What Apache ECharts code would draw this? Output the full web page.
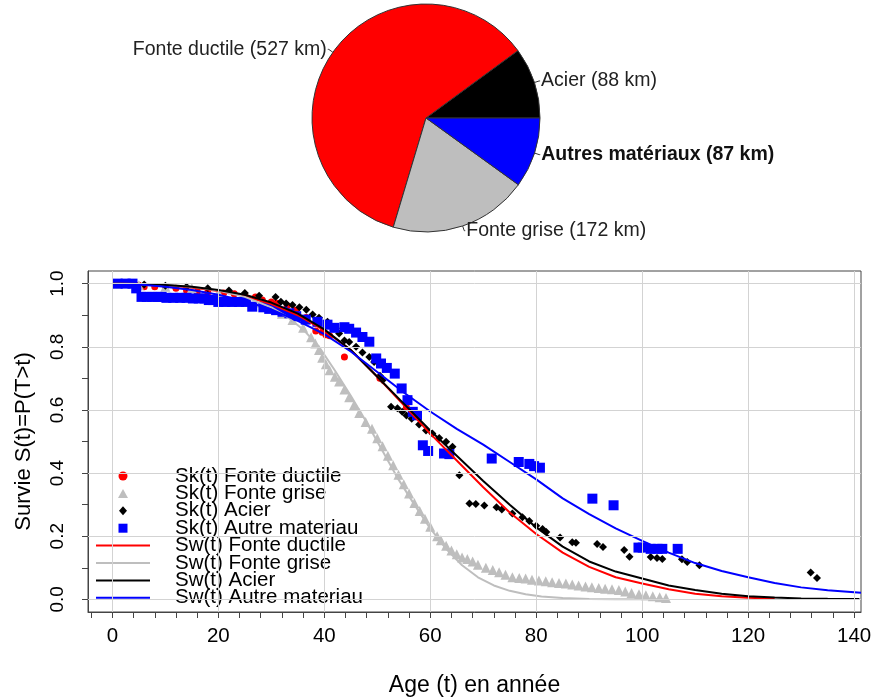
<!DOCTYPE html>
<html><head><meta charset="utf-8">
<script src="https://cdn.jsdelivr.net/npm/echarts@6/dist/echarts.min.js"></script>
<style>html,body{margin:0;padding:0;background:#fff}#c{width:875px;height:700px}</style>
</head><body><div id="c"></div><script>
// ---------- Pie data ----------
const pieNames = ['Acier (88 km)', 'Fonte ductile (527 km)', 'Fonte grise (172 km)', 'Autres matériaux (87 km)'];
const pieValues = [88, 527, 172, 87];
const pieColors = ['#000000', '#FF0000', '#BEBEBE', '#0000FF'];

// ---------- Axis ticks / labels ----------
const xLabelValues = [0, 20, 40, 60, 80, 100, 120, 140];
const xTickValues = [-4,0,4,8,12,16,20,24,28,32,36,40,44,48,52,56,60,64,68,72,76,80,84,88,92,96,100,104,108,112,116,120,124,128,132,136,140];
const yLabelValues = [0, 0.2, 0.4, 0.6, 0.8, 1.0];
const yTickValues = [0, 0.1, 0.2, 0.3, 0.4, 0.5, 0.6, 0.7, 0.8, 0.9, 1.0];
const xGridValues = [0, 20, 40, 60, 80, 100, 120, 140];
const yGridValues = [0, 0.2, 0.4, 0.6, 0.8, 1.0];

// ---------- Kaplan-Meier estimates [t, S] ----------
const skDuctile = [[1,1],[2,1],[3,1],[4,0.998],[5,0.995],[6,0.99],[8,0.99],[10,0.99],[12,0.985],[14,0.978],[16,0.975],[18,0.972],[21,0.97],[23,0.968],[25,0.963],[27,0.958],[28.3,0.948],[30,0.942],[31,0.938],[33,0.93],[34.6,0.916],[36.6,0.893],[38.4,0.85],[39.6,0.846],[40.3,0.838],[41,0.835],[43.8,0.768],[50.5,0.7],[55.5,0.608]];
const skGrise = [[1,1],[5,0.995],[10,0.99],[15,0.985],[20,0.972],[25,0.955],[28,0.94],[30,0.925],[32,0.905],[34,0.885],[36,0.86],[37.5,0.83],[38.3,0.81],[39,0.79],[39.6,0.765],[40.3,0.745],[41,0.726],[42,0.705],[42.8,0.69],[43.8,0.665],[44.7,0.64],[45.6,0.615],[46.6,0.59],[47.8,0.562],[49,0.54],[50,0.51],[51,0.485],[52,0.455],[53,0.425],[54,0.395],[55,0.365],[56,0.335],[57,0.305],[58,0.28],[59,0.255],[60,0.23],[61.3,0.2],[62,0.187],[63,0.17],[64,0.155],[65,0.143],[66,0.133],[67,0.128],[68,0.12],[69,0.11],[70.5,0.1],[71.8,0.093],[73,0.086],[74.2,0.078],[75.5,0.07],[76.8,0.068],[78,0.066],[79.2,0.062],[80.5,0.06],[81.8,0.057],[83,0.054],[84.3,0.052],[85.6,0.05],[86.8,0.047],[88,0.044],[89.3,0.041],[90.5,0.038],[91.8,0.036],[93,0.034],[94.3,0.032],[95.6,0.03],[96.8,0.025],[98,0.02],[99.4,0.016],[100.7,0.013],[102,0.01],[103.3,0.007],[104.5,0.004]];
const skAcier = [[2,1],[6,0.997],[10,0.993],[14,0.99],[18,0.985],[22,0.978],[25,0.97],[27.7,0.962],[30.8,0.958],[31.8,0.943],[32.8,0.937],[34,0.932],[35.3,0.925],[36.6,0.917],[37.8,0.902],[39,0.892],[40.6,0.879],[42.2,0.859],[42.8,0.842],[43.8,0.82],[44.7,0.815],[46,0.8],[47.2,0.782],[48.5,0.768],[49.4,0.752],[50.5,0.708],[51,0.694],[52.6,0.61],[53.8,0.605],[54.7,0.594],[55.5,0.582],[56.5,0.572],[57.9,0.554],[59.2,0.535],[60.4,0.525],[61.7,0.511],[63,0.499],[64.2,0.483],[65.5,0.393],[67.4,0.304],[68.6,0.302],[70.2,0.297],[72.5,0.292],[73.5,0.285],[75.5,0.272],[77.4,0.26],[78.7,0.248],[80,0.233],[81.2,0.223],[81.9,0.213],[84.5,0.196],[86.8,0.181],[87.5,0.179],[91.5,0.175],[92.6,0.166],[96.6,0.156],[97.6,0.135],[101.6,0.134],[102.8,0.131],[103.8,0.128],[107.5,0.127],[108.5,0.118],[110.8,0.108],[131.8,0.085],[133,0.068]];
const skAutre = [[1,1],[2.5,1],[3.8,1],[4.5,0.985],[5.5,0.958],[6.5,0.958],[7.5,0.958],[8.5,0.958],[9.3,0.958],[10.2,0.955],[11.5,0.955],[12.8,0.955],[14,0.955],[15.2,0.953],[16.3,0.953],[17.4,0.953],[18.2,0.948],[19,0.948],[20,0.942],[21.3,0.942],[22.6,0.942],[23.9,0.942],[25.2,0.942],[26.4,0.927],[28.5,0.925],[29.6,0.92],[30.9,0.916],[32.1,0.911],[33.4,0.906],[34.7,0.897],[36.5,0.886],[38.7,0.879],[40.6,0.87],[41.9,0.86],[43.8,0.862],[44.7,0.857],[46,0.845],[47.2,0.831],[48.5,0.816],[49.8,0.763],[50.7,0.747],[51.8,0.733],[53.3,0.715],[54.6,0.668],[55.7,0.631],[56.7,0.594],[57.5,0.583],[58.6,0.488],[59.6,0.47],[62.6,0.462],[63.6,0.46],[71.6,0.446],[76.7,0.435],[78.7,0.429],[79.6,0.422],[80.7,0.417],[90.6,0.319],[94.6,0.298],[99.3,0.164],[100.1,0.164],[101.6,0.16],[102.9,0.16],[103.8,0.16],[106.7,0.16]];

// ---------- Weibull fits [t, S] ----------
const swDuctile = [[0,1],[5,0.999],[10,0.995],[15,0.988],[20,0.977],[25,0.96],[30,0.935],[35,0.9],[40,0.852],[45,0.79],[50,0.705],[55,0.615],[60,0.525],[65,0.44],[70,0.355],[75,0.275],[80,0.207],[85,0.148],[90,0.103],[95,0.07],[100,0.05],[105,0.032],[110,0.018],[115,0.01],[120,0.005],[125,0.002]];
const swGrise = [[0,1],[5,0.999],[10,0.996],[15,0.99],[20,0.978],[25,0.958],[30,0.925],[33,0.895],[36,0.855],[39,0.8],[42,0.725],[45,0.645],[48,0.56],[51,0.47],[54,0.38],[57,0.3],[60,0.225],[63,0.16],[66,0.108],[69,0.07],[72,0.044],[75,0.027],[78,0.016],[81,0.009],[85,0.004],[90,0.001],[95,0.0005],[104,0]];
const swAcier = [[0,1],[5,0.999],[10,0.996],[15,0.99],[20,0.98],[25,0.965],[30,0.94],[35,0.905],[40,0.855],[45,0.79],[50,0.705],[55,0.62],[60,0.535],[65,0.455],[70,0.375],[75,0.3],[80,0.228],[85,0.167],[90,0.12],[95,0.088],[100,0.066],[105,0.044],[110,0.03],[115,0.018],[120,0.01],[125,0.006],[130,0.003],[135,0.002],[141,0.001]];
const swAutre = [[0,1],[5,0.997],[10,0.99],[15,0.98],[20,0.965],[25,0.945],[30,0.918],[35,0.882],[40,0.84],[45,0.785],[50,0.72],[55,0.655],[60,0.595],[65,0.54],[70,0.49],[75,0.435],[80,0.38],[85,0.32],[90,0.27],[95,0.225],[100,0.185],[105,0.148],[110,0.115],[115,0.09],[120,0.07],[125,0.052],[130,0.038],[135,0.029],[141.3,0.021]];

const legendNames = ['Sk(t) Fonte ductile','Sk(t) Fonte grise','Sk(t) Acier','Sk(t) Autre materiau','Sw(t) Fonte ductile','Sw(t) Fonte grise','Sw(t) Acier','Sw(t) Autre materiau'];
const legendIcons = ['circle', 'path://M5,0L10,9L0,9Z', 'path://M4,0L8,4.5L4,9L0,4.5Z', 'path://M0,0L10,0L10,10L0,10Z',
  'path://M0,0L54,0L54,2L0,2Z', 'path://M0,0L54,0L54,2L0,2Z', 'path://M0,0L54,0L54,2L0,2Z', 'path://M0,0L54,0L54,2L0,2Z'];

const FONT = '"Liberation Sans", Arial, sans-serif';

const chart = echarts.init(document.getElementById('c'), null, {renderer: 'canvas'});

const scatter = (name, data, symbol, size, color) => ({
  name, type: 'scatter', data, symbol, symbolSize: size, z: 3, silent: true,
  itemStyle: {color, opacity: 1}
});
const curve = (name, data, color) => ({
  name, type: 'line', data, symbol: 'none', showSymbol: false, z: 4, silent: true,
  lineStyle: {color, width: 2}, itemStyle: {color}
});

const option = {
  animation: false,
  backgroundColor: '#ffffff',
  grid: {left: 88, right: 14, top: 271, bottom: 88, show: true, borderColor: '#444', borderWidth: 1,
    backgroundColor: 'transparent', containLabel: false, outerBoundsMode: 'none'},
  xAxis: {
    type: 'value', min: -4.6, max: 141.3,
    axisLine: {show: true, onZero: false, lineStyle: {color: '#444'}},
    axisTick: {show: true, length: 6, customValues: xTickValues, lineStyle: {color: '#444'}},
    axisLabel: {customValues: xLabelValues, fontFamily: FONT, fontSize: 20.5, color: '#000', margin: 14},
    splitLine: {show: false},
    name: 'Age (t) en année', nameLocation: 'middle', nameGap: 62, nameMoveOverlap: false,
    nameTextStyle: {fontFamily: FONT, fontSize: 23, color: '#000'}
  },
  yAxis: {
    type: 'value', min: -0.04, max: 1.04,
    axisLine: {show: true, onZero: false, lineStyle: {color: '#444'}},
    axisTick: {show: true, length: 6, customValues: yTickValues, lineStyle: {color: '#444'}},
    axisLabel: {customValues: yLabelValues, rotate: 90, fontFamily: FONT, fontSize: 19, color: '#000', margin: 21,
      formatter: v => Number(v).toFixed(1)},
    splitLine: {show: false},
    name: 'Survie S(t)=P(T>t)', nameLocation: 'middle', nameGap: 53, nameMoveOverlap: false,
    nameTextStyle: {fontFamily: FONT, fontSize: 22, color: '#000'}
  },
  legend: {
    orient: 'vertical', left: 96, top: 465.5, padding: 0,
    itemWidth: 54, itemHeight: 9, itemGap: -3.6,
    symbolKeepAspect: true,
    selectedMode: false,
    data: legendNames.map((n, i) => ({name: n, icon: legendIcons[i]})),
    textStyle: {fontFamily: FONT, fontSize: 20.5, color: '#000', padding: [0, 0, 0, 20]}
  },
  series: [
    {
      name: '_grid', type: 'line', data: [], z: 1, silent: true, symbol: 'none',
      markLine: {
        silent: true, symbol: ['none', 'none'], label: {show: false}, animation: false,
        lineStyle: {color: '#d3d3d3', width: 1, type: 'solid'},
        emphasis: {disabled: true},
        data: xGridValues.map(v => ({xAxis: v})).concat(yGridValues.map(v => ({yAxis: v})))
      }
    },
    scatter('Sk(t) Fonte ductile', skDuctile, 'circle', 7, '#FF0000'),
    scatter('Sk(t) Fonte grise', skGrise, 'triangle', 10, '#BEBEBE'),
    scatter('Sk(t) Acier', skAcier, 'diamond', 8, '#000000'),
    scatter('Sk(t) Autre materiau', skAutre, 'rect', 10, '#0000FF'),
    curve('Sw(t) Fonte ductile', swDuctile, '#FF0000'),
    curve('Sw(t) Fonte grise', swGrise, '#BEBEBE'),
    curve('Sw(t) Acier', swAcier, '#000000'),
    curve('Sw(t) Autre materiau', swAutre, '#0000FF'),
    {
      name: 'pie', type: 'pie', center: [426, 118], radius: 114,
      startAngle: 0, clockwise: false, avoidLabelOverlap: false, silent: true,
      itemStyle: {borderColor: '#333', borderWidth: 1},
      label: {show: true, position: 'outside', formatter: '{b}', fontFamily: FONT, fontSize: 19.5, color: '#222', distanceToLabelLine: 1},
      labelLine: {show: true, length: 5, length2: 1, lineStyle: {color: '#333', width: 1}},
      emphasis: {disabled: true},
      data: pieNames.map((n, i) => {
        const d = {name: n, value: pieValues[i], itemStyle: {color: pieColors[i]}};
        if (i === 3) d.label = {fontFamily: FONT, fontWeight: 'bold', fontSize: 19.5, color: '#111'};
        return d;
      })
    }
  ]
};
chart.setOption(option);
</script></body></html>
